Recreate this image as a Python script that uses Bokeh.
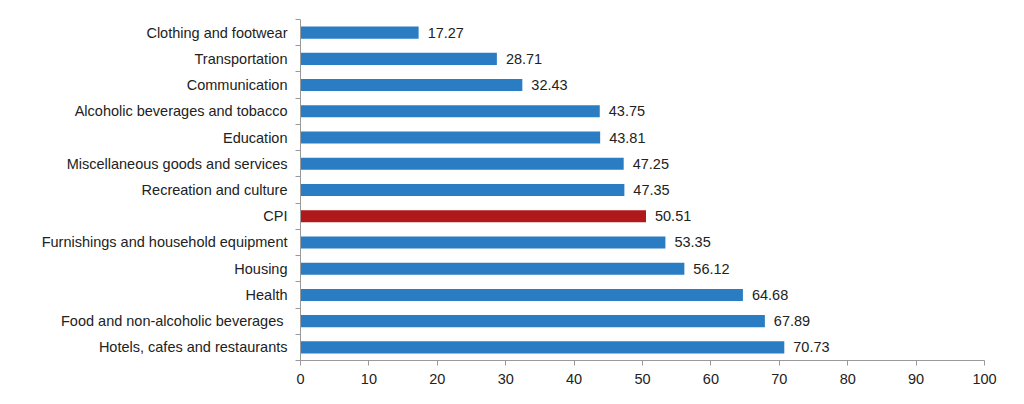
from bokeh.plotting import figure
from bokeh.models import ColumnDataSource, FixedTicker, Range1d, LabelSet
from bokeh.core.properties import value
from bokeh.embed import file_html
from bokeh.resources import INLINE

# Data (bottom to top)
categories = [
    "Hotels, cafes and restaurants",
    "Food and non-alcoholic beverages ",
    "Health",
    "Housing",
    "Furnishings and household equipment",
    "CPI",
    "Recreation and culture",
    "Miscellaneous goods and services",
    "Education",
    "Alcoholic beverages and tobacco",
    "Communication",
    "Transportation",
    "Clothing and footwear",
]
values = [70.73, 67.89, 64.68, 56.12, 53.35, 50.51, 47.35, 47.25, 43.81, 43.75, 32.43, 28.71, 17.27]
x_ticks = [0, 10, 20, 30, 40, 50, 60, 70, 80, 90, 100]

BLUE = "#2a7dc2"
RED = "#b0191c"
FONT = "Liberation Sans"
FS = "14.5px"

idx = list(range(len(categories)))
colors = [RED if c == "CPI" else BLUE for c in categories]
labels = [f"{v:.2f}" for v in values]

src = ColumnDataSource(dict(y=idx, v=values, c=colors, lab=labels))

p = figure(width=1008, height=396, output_backend="svg", toolbar_location=None,
           x_range=Range1d(0, 100), y_range=Range1d(-0.5, len(categories) - 0.5),
           min_border_left=300, min_border_right=24, min_border_top=19, min_border_bottom=36)
p.outline_line_color = None
p.grid.grid_line_color = None
p.background_fill_color = "white"
p.border_fill_color = "white"

p.hbar(y="y", right="v", left=0, height=0.46, fill_color="c", line_color=None, source=src)

lbl = LabelSet(x="v", y="y", text="lab", source=src, x_offset=9, y_offset=0,
               text_baseline="middle", text_font=value(FONT),
               text_font_size=value(FS), text_color="#222222")
p.add_layout(lbl)

# y axis
yt = FixedTicker(ticks=idx, minor_ticks=[i - 0.5 for i in range(len(categories) + 1)])
p.yaxis.ticker = yt
p.yaxis.major_label_overrides = {i: c for i, c in enumerate(categories)}
p.yaxis.major_tick_out = 0
p.yaxis.major_tick_in = 0
p.yaxis.minor_tick_out = 5
p.yaxis.minor_tick_in = 0
p.yaxis.minor_tick_line_color = "#999999"
p.yaxis.axis_line_color = "#999999"
p.yaxis.major_label_text_font = FONT
p.yaxis.major_label_text_font_size = FS
p.yaxis.major_label_text_color = "#222222"
p.yaxis.major_label_standoff = 8

# x axis
p.xaxis.ticker = FixedTicker(ticks=x_ticks, minor_ticks=[])
p.xaxis.major_tick_out = 5
p.xaxis.major_tick_in = 0
p.xaxis.minor_tick_line_color = None
p.xaxis.major_tick_line_color = "#999999"
p.xaxis.axis_line_color = "#999999"
p.xaxis.major_label_text_font = FONT
p.xaxis.major_label_text_font_size = FS
p.xaxis.major_label_text_color = "#222222"
p.xaxis.major_label_standoff = 8

open("out.html", "w").write(file_html(p, INLINE))
